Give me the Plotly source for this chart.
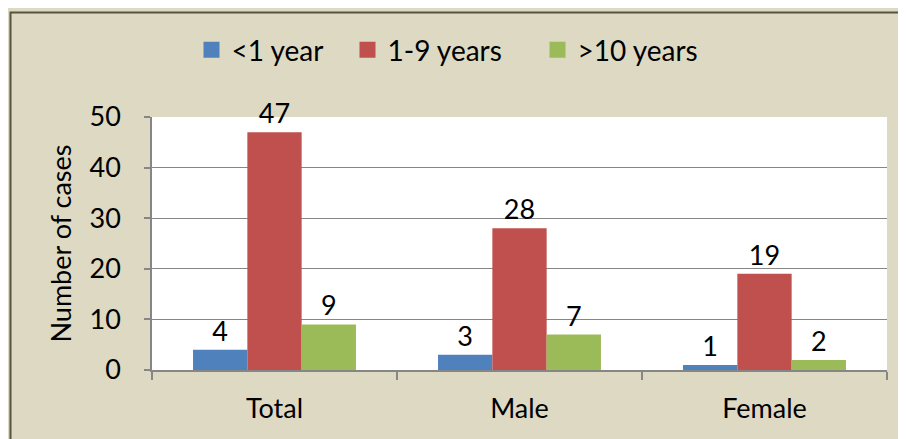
import plotly.graph_objects as go

# ── Data ───────────────────────────────────────────────────────────────────
groups     = ["Total", "Male", "Female"]
under_1    = [4, 3, 1]
one_to_9   = [47, 28, 19]
over_10    = [9, 7, 2]
series     = [("<1 year", under_1, "#4f81bd"),
              ("1-9 years", one_to_9, "#c0504d"),
              (">10 years", over_10, "#9bbb59")]
y_ticks    = [0, 10, 20, 30, 40, 50]

# ── Style ──────────────────────────────────────────────────────────────────
BG    = "#ddd9c3"
GRID  = "#868686"
FONT  = "Lato, Carlito, Calibri, sans-serif"
FS    = 27

# page body adds an 8px offset; plot area should land at x 152-887, y 117-370
L, R, T, B = 144, 27, 109, 77
pw, ph = 906 - L - R, 439 - T - B

# legend square centres (figure px), one legend per series so spacing matches
legend_px = [203.5, 359.5, 549.5]
legend_keys = ["legend", "legend2", "legend3"]

fig = go.Figure()
for (name, vals, color), lkey in zip(series, legend_keys):
    fig.add_trace(go.Bar(
        x=groups, y=vals, name=name, legendgroup=name, showlegend=False,
        marker=dict(color=color, line=dict(width=0)),
        text=[str(v) for v in vals],
        textposition="outside",
        textfont=dict(size=FS, color="black", family=FONT),
        cliponaxis=False,
    ))
    # legend-only entry with a bigger square swatch
    fig.add_trace(go.Scatter(
        x=[None], y=[None], name=name, legendgroup=name, legend=lkey,
        mode="markers", marker=dict(symbol="square", size=16, color=color),
        hoverinfo="skip",
    ))

# outer chart border (left/top visible, right/bottom run off the page)
fig.add_shape(
    type="rect", xref="paper", yref="paper",
    x0=(2.5 - L) / pw, x1=(920 - L) / pw,
    y0=-(460 - 362) / ph, y1=(362 - 4.5) / ph,
    line=dict(color="#55553f", width=2), fillcolor="rgba(0,0,0,0)",
    layer="below",
)

legend_style = dict(
    orientation="h", xanchor="left", yanchor="middle",
    y=(362 - 42) / ph, font=dict(size=FS + 1), bgcolor="rgba(0,0,0,0)",
    itemsizing="trace", itemwidth=30,
)
fig.update_layout(
    width=906, height=439,
    margin=dict(l=L, r=R, t=T, b=B),
    paper_bgcolor=BG, plot_bgcolor="white",
    font=dict(family=FONT, size=FS, color="black"),
    barmode="group", bargap=0.335, bargroupgap=0,
    showlegend=True,
)
for lkey, px in zip(legend_keys, legend_px):
    fig.update_layout(**{lkey: dict(legend_style, x=(px - 20 - L) / pw)})

fig.update_yaxes(
    range=[0, 50], tickvals=y_ticks, showgrid=True, gridcolor=GRID, gridwidth=1,
    showline=True, linecolor=GRID, linewidth=1.5,
    ticks="outside", ticklen=6, tickcolor=GRID, tickwidth=1.5,
    ticklabelstandoff=18,
    tickfont=dict(size=FS), zeroline=False,
    title=dict(text="Number of cases", font=dict(size=FS), standoff=10),
)
fig.update_xaxes(
    showline=True, linecolor=GRID, linewidth=2,
    ticks="outside", tickson="boundaries", ticklen=8,
    tickcolor=GRID, tickwidth=1.5, showgrid=False,
    ticklabelstandoff=14,
    tickfont=dict(size=FS),
)

fig.write_html("out.html")
